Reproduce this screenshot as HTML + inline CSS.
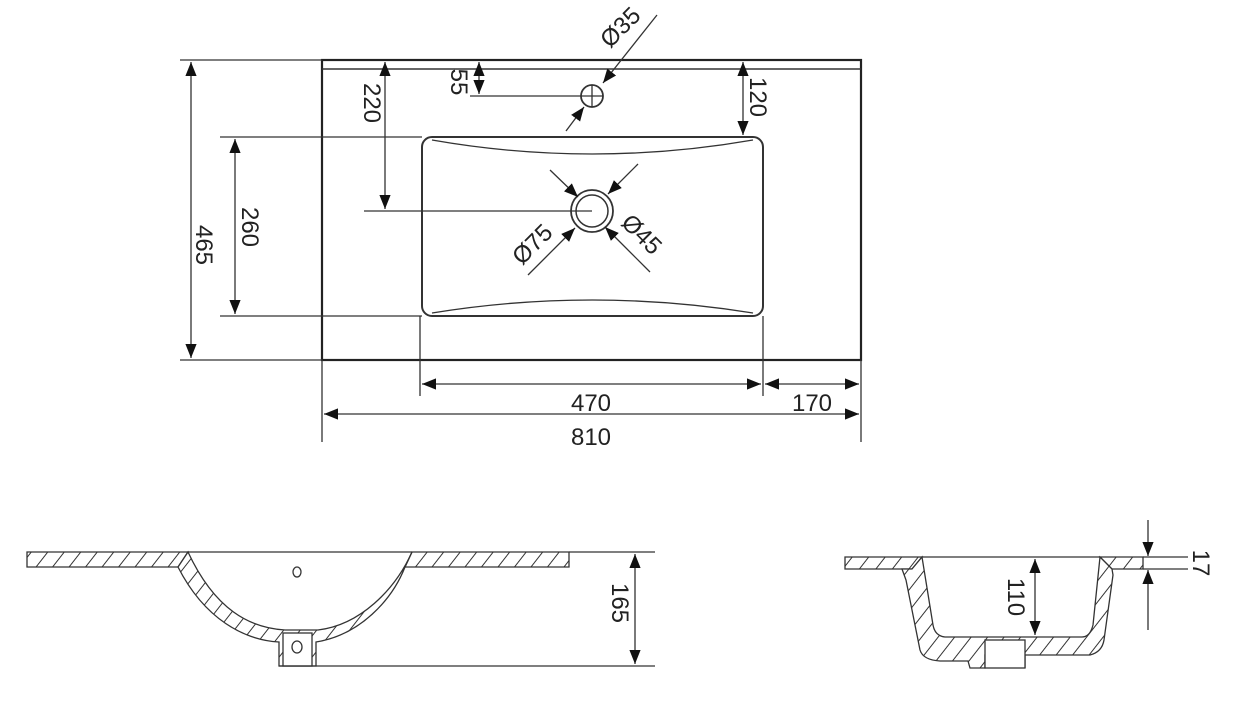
<!DOCTYPE html>
<html><head><meta charset="utf-8"><style>
html,body{margin:0;padding:0;background:#fff;}
svg{display:block;}
text{font-family:"Liberation Sans",Arial,sans-serif;font-size:24px;fill:#222;}
</style></head><body>
<svg width="1250" height="709" viewBox="0 0 1250 709" xmlns="http://www.w3.org/2000/svg">
<defs>
<marker id="a" viewBox="0 0 10 10" refX="10" refY="5" markerWidth="14" markerHeight="14" markerUnits="userSpaceOnUse" orient="auto-start-reverse">
<path d="M0,1 L10,5 L0,9 Z" fill="#111"/></marker>
<pattern id="h" width="13" height="13" patternUnits="userSpaceOnUse" patternTransform="rotate(38)">
<rect width="13" height="13" fill="#fff"/><line x1="0" y1="0" x2="0" y2="13" stroke="#333" stroke-width="2"/></pattern>
</defs>
<g stroke="#333" stroke-width="1.3" fill="none">
<rect x="322" y="60" width="539" height="300" stroke-width="2.2" stroke="#222"/>
<line x1="322" y1="69" x2="861" y2="69" stroke-width="1.6"/>
<rect x="422" y="137" width="341" height="179" rx="10" stroke-width="2"/>
<path d="M432,140 Q592,168 753,140"/>
<path d="M432,313 Q592,287 753,313"/>
<circle cx="592" cy="96" r="11" stroke-width="1.8"/>
<line x1="581" y1="96" x2="603" y2="96"/><line x1="592" y1="85" x2="592" y2="107"/>
<circle cx="592" cy="211" r="21" stroke-width="1.8"/>
<circle cx="592" cy="211" r="16" stroke-width="1.5"/>
<line x1="180" y1="60" x2="322" y2="60"/>
<line x1="180" y1="360" x2="322" y2="360"/>
<line x1="220" y1="137" x2="422" y2="137"/>
<line x1="220" y1="316" x2="422" y2="316"/>
<line x1="364" y1="211" x2="592" y2="211"/>
<line x1="470" y1="96" x2="581" y2="96"/>
<line x1="322" y1="360" x2="322" y2="442"/>
<line x1="861" y1="360" x2="861" y2="442"/>
<line x1="420" y1="316" x2="420" y2="396"/>
<line x1="763" y1="316" x2="763" y2="396"/>
<line x1="191" y1="62" x2="191" y2="358" marker-start="url(#a)" marker-end="url(#a)"/>
<line x1="235" y1="139" x2="235" y2="314" marker-start="url(#a)" marker-end="url(#a)"/>
<line x1="385" y1="62" x2="385" y2="209" marker-start="url(#a)" marker-end="url(#a)"/>
<line x1="479" y1="62" x2="479" y2="94" marker-start="url(#a)" marker-end="url(#a)"/>
<line x1="743" y1="62" x2="743" y2="135" marker-start="url(#a)" marker-end="url(#a)"/>
<line x1="422" y1="384" x2="761" y2="384" marker-start="url(#a)" marker-end="url(#a)"/>
<line x1="765" y1="384" x2="859" y2="384" marker-start="url(#a)" marker-end="url(#a)"/>
<line x1="324" y1="414" x2="859" y2="414" marker-start="url(#a)" marker-end="url(#a)"/>
<line x1="657" y1="15" x2="603" y2="83" marker-end="url(#a)"/>
<line x1="566" y1="131" x2="584" y2="107" marker-end="url(#a)"/>
<line x1="550" y1="170" x2="578" y2="197" marker-end="url(#a)"/>
<line x1="638" y1="164" x2="608" y2="194" marker-end="url(#a)"/>
<line x1="528" y1="275" x2="575" y2="228" marker-end="url(#a)"/>
<line x1="650" y1="272" x2="605" y2="227" marker-end="url(#a)"/>
<path d="M27,552 L188,552 L178,567 L27,567 Z" fill="url(#h)"/>
<path d="M412,552 L569,552 L569,567 L405,567 Z" fill="url(#h)"/>
<path d="M178,567 C205,620 245,640 279,642 L279,666 L316,666 L316,642 C360,635 392,600 405,567 L412,552 C395,590 360,625 318,630 L285,630 C250,628 215,610 188,552 Z" fill="url(#h)"/>
<rect x="283" y="633" width="29" height="33" fill="#fff"/>
<line x1="188" y1="552" x2="412" y2="552"/>
<ellipse cx="297" cy="572" rx="4" ry="5"/>
<ellipse cx="297" cy="647" rx="5" ry="6"/>
<line x1="569" y1="552" x2="655" y2="552"/>
<line x1="279" y1="666" x2="655" y2="666"/>
<line x1="635" y1="554" x2="635" y2="664" marker-start="url(#a)" marker-end="url(#a)"/>
<path d="M845,557 L922,557 L912,569 L845,569 Z" fill="url(#h)"/>
<path d="M1100,557 L1143,557 L1143,569 L1112,569 Z" fill="url(#h)"/>
<path d="M912,569 L902,569 L906,580 L920,650 Q923,660 940,661 L968,661 L970,668 L985,668 L985,655 L1025,655 L1025,668 L1025,655 L1090,655 Q1102,652 1104,640 L1113,575 L1112,569 L1100,557 L1093,625 Q1090,637 1082,637 L945,637 Q935,636 933,625 L922,557 Z" fill="url(#h)"/>
<rect x="985" y="640" width="40" height="28" fill="#fff"/>
<line x1="922" y1="557" x2="1100" y2="557"/>
<line x1="1143" y1="557" x2="1188" y2="557"/>
<line x1="1143" y1="569" x2="1188" y2="569"/>
<line x1="1035" y1="559" x2="1035" y2="635" marker-start="url(#a)" marker-end="url(#a)"/>
<line x1="1148" y1="520" x2="1148" y2="556" marker-end="url(#a)"/>
<line x1="1148" y1="630" x2="1148" y2="570" marker-end="url(#a)"/>
</g>
<g>
<text transform="translate(196,245) rotate(90)" text-anchor="middle">465</text>
<text transform="translate(242,227) rotate(90)" text-anchor="middle">260</text>
<text transform="translate(364,103) rotate(90)" text-anchor="middle">220</text>
<text transform="translate(451,82) rotate(90)" text-anchor="middle">55</text>
<text transform="translate(750,97) rotate(90)" text-anchor="middle">120</text>
<text transform="translate(626,33) rotate(-45)" text-anchor="middle">Ø35</text>
<text transform="translate(538,250) rotate(-45)" text-anchor="middle">Ø75</text>
<text transform="translate(636,240) rotate(45)" text-anchor="middle">Ø45</text>
<text x="591" y="411" text-anchor="middle">470</text>
<text x="812" y="411" text-anchor="middle">170</text>
<text x="591" y="445" text-anchor="middle">810</text>
<text transform="translate(612,603) rotate(90)" text-anchor="middle">165</text>
<text transform="translate(1008,597) rotate(90)" text-anchor="middle">110</text>
<text transform="translate(1193,563) rotate(90)" text-anchor="middle">17</text>
</g>
</svg>
</body></html>
